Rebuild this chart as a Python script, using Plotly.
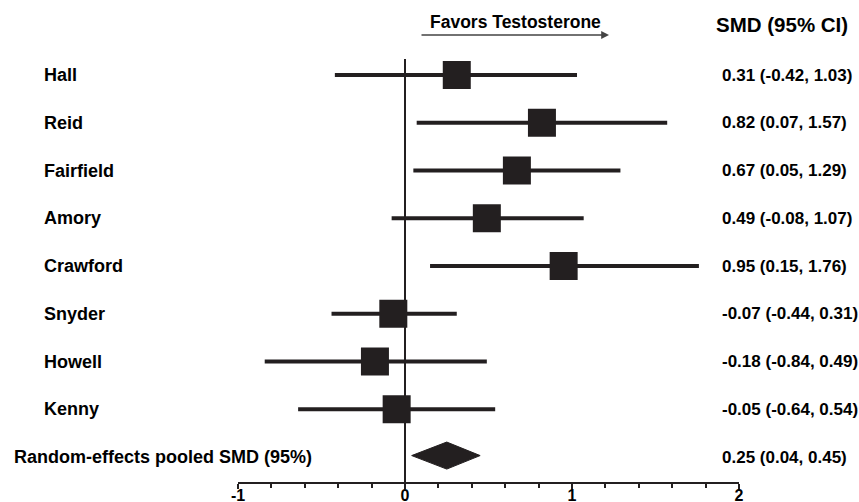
import plotly.graph_objects as go

studies = ["Hall", "Reid", "Fairfield", "Amory", "Crawford", "Snyder", "Howell", "Kenny"]
smd = [0.31, 0.82, 0.67, 0.49, 0.95, -0.07, -0.18, -0.05]
ci_lo = [-0.42, 0.07, 0.05, -0.08, 0.15, -0.44, -0.84, -0.64]
ci_hi = [1.03, 1.57, 1.29, 1.07, 1.76, 0.31, 0.49, 0.54]
pooled_label = "Random-effects pooled SMD (95%)"
pooled = [0.25, 0.04, 0.45]
x_ticks = [-1, 0, 1, 2]

W, H = 859, 502
L, R, T, B = 238, 120, 40, 20
pw, ph = W - L - R, H - T - B
ROW0, STEP = 75, 47.75
ylo = 1 + (T - ROW0) / STEP
yhi = 1 + (H - B - ROW0) / STEP

def px_x(p):
    return (p - L) / pw

def px_y(p):
    return (H - B - p) / ph

dark = "#231f20"
fam = "Liberation Sans, Arial, sans-serif"
rows = list(range(1, len(studies) + 1))
prow = len(studies) + 1

fig = go.Figure()
fig.add_trace(go.Scatter(
    x=smd, y=rows, mode="markers",
    marker=dict(symbol="square", size=28, color=dark, line=dict(width=0)),
    error_x=dict(type="data", symmetric=False,
                 array=[h - m for h, m in zip(ci_hi, smd)],
                 arrayminus=[m - l for m, l in zip(smd, ci_lo)],
                 color=dark, thickness=4, width=0),
    showlegend=False, hoverinfo="skip", cliponaxis=False))

hh = 0.283
fig.add_trace(go.Scatter(
    x=[pooled[1], pooled[0], pooled[2], pooled[0], pooled[1]],
    y=[prow - 0.03, prow - 0.03 - hh, prow - 0.03, prow - 0.03 + hh, prow - 0.03],
    mode="lines", fill="toself", fillcolor=dark, line=dict(color=dark, width=1),
    showlegend=False, hoverinfo="skip"))

fig.add_shape(type="line", xref="x", yref="paper", x0=0, x1=0,
              y0=0, y1=px_y(59), line=dict(color=dark, width=2))

ann = []
for r, s in zip(rows, studies):
    ann.append(dict(x=px_x(42), xref="paper", y=r, yref="y", text=f"<b>{s}</b>",
                    xanchor="left", yanchor="middle", showarrow=False,
                    font=dict(family=fam, size=18, color="black")))
for r, m, l, h in zip(rows, smd, ci_lo, ci_hi):
    ann.append(dict(x=px_x(720), xref="paper", y=r, yref="y",
                    text=f"<b>{m:.2f} ({l:.2f}, {h:.2f})</b>",
                    xanchor="left", yanchor="middle", showarrow=False,
                    font=dict(family=fam, size=17, color="black")))
ann.append(dict(x=px_x(12), xref="paper", y=prow, yref="y", text=f"<b>{pooled_label}</b>",
                xanchor="left", yanchor="middle", showarrow=False,
                font=dict(family=fam, size=18, color="black")))
ann.append(dict(x=px_x(720), xref="paper", y=prow, yref="y",
                text=f"<b>{pooled[0]:.2f} ({pooled[1]:.2f}, {pooled[2]:.2f})</b>",
                xanchor="left", yanchor="middle", showarrow=False,
                font=dict(family=fam, size=17, color="black")))
ann.append(dict(x=px_x(782), xref="paper", y=px_y(25), yref="paper",
                text="<b>SMD (95% CI)</b>", xanchor="center", yanchor="middle",
                showarrow=False, font=dict(family=fam, size=20.5, color="black")))
ann.append(dict(x=px_x(515), xref="paper", y=px_y(22), yref="paper",
                text="<b>Favors Testosterone</b>", xanchor="center", yanchor="middle",
                showarrow=False, font=dict(family=fam, size=17.5, color="black")))
ann.append(dict(x=px_x(609), xref="paper", y=px_y(35), yref="paper", text="",
                showarrow=True, ax=-189, ay=0, arrowhead=2, arrowsize=1.2,
                arrowwidth=1.3, arrowcolor="#444"))

fig.update_layout(
    width=W, height=H, margin=dict(l=L, r=R, t=T, b=B, autoexpand=False),
    paper_bgcolor="white", plot_bgcolor="white",
    annotations=ann, showlegend=False,
    xaxis=dict(range=[-1, 2], tickvals=x_ticks, ticktext=[str(v) for v in x_ticks],
               automargin=False, ticklabelstandoff=-7,
               showgrid=False, zeroline=False, showline=True, linecolor=dark, linewidth=2,
               ticks="outside", ticklen=5, tickwidth=2, tickcolor=dark,
               minor=dict(dtick=0.2, ticks="outside", ticklen=4, tickwidth=1.5, tickcolor=dark, showgrid=False),
               tickfont=dict(family=fam, size=16, color="black", weight="bold")),
    yaxis=dict(range=[yhi, ylo], visible=False, showgrid=False, zeroline=False, automargin=False),
)

fig.write_html("out.html", config={"displayModeBar": False},
               post_script="document.body.style.margin='0px';document.body.style.overflow='hidden';")
